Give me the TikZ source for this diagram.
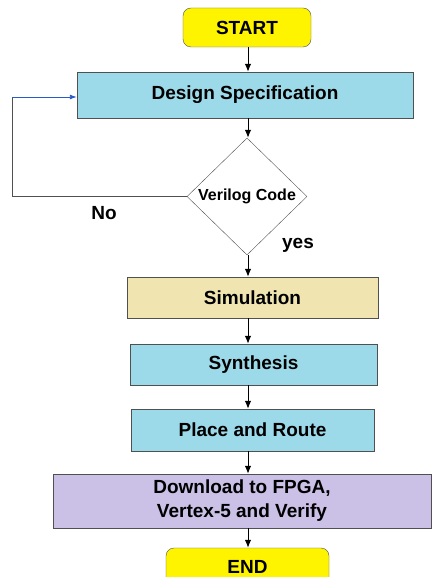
\documentclass[tikz,border=0pt]{standalone}
\usepackage{fontspec}
\setmainfont{Liberation Sans}
\usepackage{tikz}
\usetikzlibrary{arrows,arrows.meta,shapes.geometric,positioning}

\definecolor{startyellow}{RGB}{255,244,0}
\definecolor{procblue}{RGB}{156,218,233}
\definecolor{simbeige}{RGB}{240,229,176}
\definecolor{dlviolet}{RGB}{203,192,229}
\definecolor{edgegray}{RGB}{80,80,80}
\definecolor{loopblue}{RGB}{40,90,200}

\begin{document}
\begin{tikzpicture}[x=1pt,y=-1pt]
\tikzstyle{every node}=[font=\fontsize{19}{24}\selectfont\bfseries]
\tikzstyle{term}=[rectangle,draw=edgegray,fill=startyellow,rounded corners=8pt,inner sep=0pt]
\tikzstyle{proc}=[rectangle,draw=edgegray,fill=procblue,inner sep=0pt,align=center]
\tikzstyle{decide}=[diamond,draw=edgegray,fill=white,inner sep=0pt,minimum width=120pt,minimum height=117pt,font=\fontsize{16}{18}\selectfont\bfseries]
\tikzstyle{arr}=[-{Latex[length=8pt,width=6.5pt]},black,line width=1pt]
\clip (0,0) rectangle (432,577);
\node[term,minimum width=128pt,minimum height=39pt] (start) at (247,27.5) {START};
\node[proc,minimum width=336pt,minimum height=46pt] (design) at (245,95) {Design Specification};
\node[decide] (verilog) at (247,196.5) {Verilog Code};
\node[proc,fill=simbeige,minimum width=251pt,minimum height=41pt] (sim) at (252.5,297.5) {Simulation};
\node[proc,minimum width=247pt,minimum height=41pt] (synth) at (253.5,364.5) {Synthesis};
\node[proc,minimum width=243pt,minimum height=42pt] (place) at (252.5,430) {Place and Route};
\node[proc,fill=dlviolet,minimum width=378pt,minimum height=54pt] (dl) at (242,501) {Download to FPGA,\\Vertex-5 and Verify};
\node[term,minimum width=163pt,minimum height=37pt] (end) at (247.5,566.5) {END};
\node[draw=none] (no) at (104,213) {No};
\node[draw=none] (yes) at (298,245) {yes};
\coordinate (loop) at (12,97);
% main flow
\draw[arr] (248,0 |- start.south) -- (248,0 |- design.north);
\draw[arr] (248,0 |- design.south) -- (248,0 |- verilog.north);
\draw[arr] (248,0 |- verilog.south) -- (248,0 |- sim.north);
\draw[arr] (248,0 |- sim.south) -- (248,0 |- synth.north);
\draw[arr] (248,0 |- synth.south) -- (248,0 |- place.north);
\draw[arr] (248,0 |- place.south) -- (248,0 |- dl.north);
\draw[arr] (248,0 |- dl.south) -- (248,0 |- end.north);
% back to the specification
\draw[edgegray,line width=0.9pt] (verilog.west) -| (loop);
\draw[-{Latex[length=7pt,width=5pt]},loopblue,line width=0.9pt] (loop) -- (design.west |- loop);
\end{tikzpicture}
\end{document}
